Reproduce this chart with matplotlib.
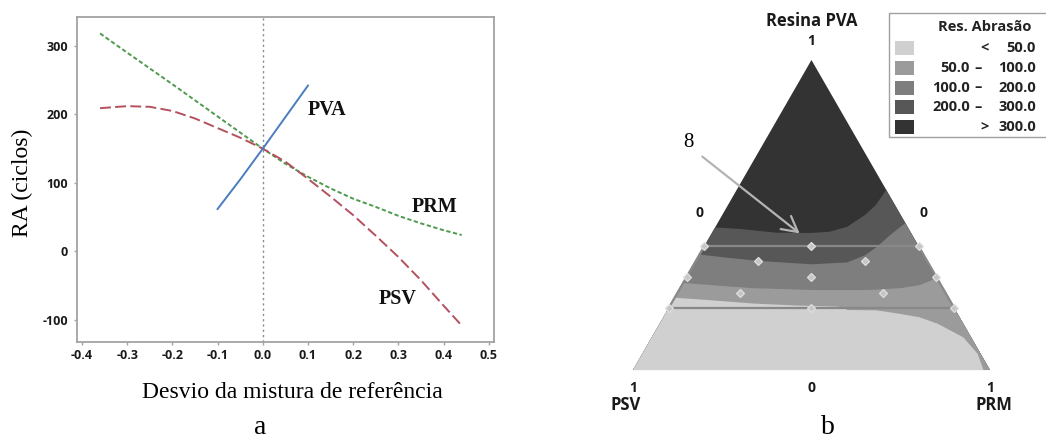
import matplotlib
matplotlib.use("Agg")
import matplotlib.pyplot as plt
from matplotlib.patches import Polygon, Rectangle

SERIF = "Liberation Serif"
SANS = "Open Sans"

# ---------------- panel a : response trace ----------------
x_ticks = [-0.4, -0.3, -0.2, -0.1, 0.0, 0.1, 0.2, 0.3, 0.4, 0.5]
x_tick_labels = ["-0.4", "-0.3", "-0.2", "-0.1", "0.0", "0.1", "0.2", "0.3", "0.4", "0.5"]
y_ticks = [-100, 0, 100, 200, 300]
y_tick_labels = ["-100", "0", "100", "200", "300"]

pva_x = [-0.1, -0.05, 0.0, 0.05, 0.1]
pva_y = [62, 105, 150, 196, 242]

psv_x = [-0.36, -0.3, -0.25, -0.2, -0.15, -0.1, -0.05, 0.0, 0.05, 0.1, 0.15, 0.2, 0.25, 0.3, 0.35, 0.4, 0.44]
psv_y = [209, 212, 211, 205, 194, 180, 166, 150, 131, 106, 80, 53, 23, -8, -42, -79, -108]

prm_x = [-0.36, -0.3, -0.2, -0.1, 0.0, 0.05, 0.1, 0.15, 0.2, 0.25, 0.3, 0.35, 0.4, 0.44]
prm_y = [318, 290, 244, 197, 150, 128, 109, 92, 77, 65, 52, 41, 31, 24]

# ---------------- panel b : mixture contour ----------------
# contour boundaries: horizontal ternary position u (= PRM + PVA/2) and PVA level v
b300_u = [0.0, 0.2, 0.3, 0.4, 0.5, 0.55, 0.6, 0.65, 0.68, 0.7, 0.72, 0.8, 1.0]
b300_v = [0.47, 0.462, 0.455, 0.443, 0.442, 0.446, 0.462, 0.50, 0.532, 0.565, 0.60, 1.0, 1.2]

b200_u = [0.0, 0.15, 0.19, 0.25, 0.35, 0.5, 0.6, 0.65, 0.683, 0.72, 0.763, 0.8, 1.0]
b200_v = [0.38, 0.375, 0.372, 0.364, 0.352, 0.341, 0.347, 0.37, 0.397, 0.435, 0.474, 0.8, 1.2]

b100_u = [0.0, 0.14, 0.25, 0.336, 0.5, 0.66, 0.75, 0.804, 0.852, 0.9, 1.0]
b100_v = [0.29, 0.281, 0.271, 0.264, 0.258, 0.258, 0.264, 0.274, 0.297, 0.5, 1.2]

b50_u = [0.0, 0.112, 0.2, 0.336, 0.45, 0.571, 0.585, 0.6, 0.68, 0.711, 0.75, 0.8, 0.852, 0.924, 0.964, 0.981, 1.0]
b50_v = [0.24, 0.235, 0.228, 0.216, 0.21, 0.206, 0.203, 0.195, 0.194, 0.189, 0.182, 0.172, 0.151, 0.107, 0.054, 0.0, -0.2]

band_labels_lo = ["", "50.0", "100.0", "200.0", ""]
band_symbols = ["<", "\u2013", "\u2013", "\u2013", ">"]
band_labels_hi = ["50.0", "100.0", "200.0", "300.0", "300.0"]
band_colors = ["#d0d0d0", "#9b9b9b", "#7e7e7e", "#575757", "#333333"]

# design points (PVA, PRM fractions)
pts_pva = [0.4, 0.4, 0.4, 0.35, 0.35, 0.3, 0.3, 0.3, 0.25, 0.25, 0.2, 0.2, 0.2]
pts_prm = [0.0, 0.3, 0.6, 0.175, 0.475, 0.0, 0.35, 0.7, 0.175, 0.575, 0.0, 0.4, 0.8]
pva_low, pva_high = 0.2, 0.4

W, H = 1046, 441
fig = plt.figure(figsize=(W / 100, H / 100), dpi=100)
fig.patch.set_facecolor("white")


def fx(px):
    return px / W


def fy(py):
    return 1 - py / H


# ---- left axes ----
ax = fig.add_axes([fx(77), fy(342), (494 - 77) / W, (342 - 17) / H])
ax.set_xlim(-0.411, 0.5115)
ax.set_ylim(-132, 342)
ax.axvline(0, color="#8c8c8c", lw=1.0, dashes=(1.6, 2.2))
ax.plot(prm_x, prm_y, color="#4e9a4e", lw=1.4, dashes=(2.2, 1.3))
ax.plot(psv_x, psv_y, color="#b5505e", lw=1.4, dashes=(5.6, 2.2))
ax.plot(pva_x, pva_y, color="#4a7cbf", lw=1.4)
ax.set_xticks(x_ticks)
ax.set_xticklabels(x_tick_labels)
ax.set_yticks(y_ticks)
ax.set_yticklabels(y_tick_labels)
for s in ax.spines.values():
    s.set_color("#a3a3a3")
    s.set_linewidth(1.3)
ax.tick_params(direction="out", length=2.5, width=1, color="#a3a3a3",
               labelsize=9, labelcolor="#1a1a1a")
ax.tick_params(axis="y", pad=4.0)
ax.tick_params(axis="x", pad=2.5)
for lab in ax.get_xticklabels() + ax.get_yticklabels():
    lab.set_fontfamily(SANS)
    lab.set_fontweight("bold")
ax.text(0.142, 206, "PVA", family=SERIF, fontsize=14.5, ha="center", va="center",
        color="#111111", fontweight="bold")
ax.text(0.379, 65, "PRM", family=SERIF, fontsize=14.5, ha="center", va="center",
        color="#111111", fontweight="bold")
ax.text(0.299, -69, "PSV", family=SERIF, fontsize=14.5, ha="center", va="center",
        color="#111111", fontweight="bold")

# ---- ternary axes ----
tx = fig.add_axes([fx(520), 0, (W - 520) / W, 1])
tx.set_xlim(-0.3165, 1.157)
tx.set_ylim(-0.229, 1.1935)
tx.axis("off")

tri = Polygon([(0, 0), (1, 0), (0.5, 1)], closed=True, facecolor=band_colors[4],
              edgecolor="none", zorder=1)
tx.add_patch(tri)
for bu, bv, col in [(b300_u, b300_v, band_colors[3]),
                    (b200_u, b200_v, band_colors[2]),
                    (b100_u, b100_v, band_colors[1]),
                    (b50_u, b50_v, band_colors[0])]:
    coll = tx.fill_between(bu, -0.3, bv, color=col, lw=0, zorder=2)
    coll.set_clip_path(tri)

region = Polygon([(pva_low / 2, pva_low), (1 - pva_low / 2, pva_low),
                  (1 - pva_high / 2, pva_high), (pva_high / 2, pva_high)],
                 closed=True, fill=False, edgecolor="#888888", lw=1.6, zorder=3)
tx.add_patch(region)
pts_u = [p + v / 2 for p, v in zip(pts_prm, pts_pva)]
tx.plot(pts_u, pts_pva, ls="none", marker="D", ms=4.5, mfc="#c6c6c6", mec="#dedede",
        mew=0.9, zorder=4)

tx.annotate("", xy=(0.473, 0.435), xytext=(0.188, 0.694),
            arrowprops=dict(arrowstyle="->,head_length=0.55,head_width=0.3",
                            color="#b4b4b4", lw=1.6, mutation_scale=20), zorder=5)
tx.text(0.154, 0.735, "8", family=SERIF, fontsize=15, ha="center", va="center")

tkw = dict(family=SANS, fontweight="bold", ha="center", va="center", color="#1a1a1a")
tx.text(0.5, 1.126, "Resina PVA", fontsize=12, **tkw)
tx.text(0.5, 1.062, "1", fontsize=10, **tkw)
tx.text(0.185, 0.506, "0", fontsize=10, **tkw)
tx.text(0.814, 0.506, "0", fontsize=10, **tkw)
tx.text(0.0, -0.058, "1", fontsize=10, **tkw)
tx.text(0.5, -0.058, "0", fontsize=10, **tkw)
tx.text(1.0, -0.058, "1", fontsize=10, **tkw)
tx.text(-0.022, -0.113, "PSV", fontsize=12, **tkw)
tx.text(1.01, -0.113, "PRM", fontsize=12, **tkw)

# ---- overlay in pixel coordinates ----
ov = fig.add_axes([0, 0, 1, 1])
ov.set_xlim(0, W)
ov.set_ylim(H, 0)
ov.axis("off")
ov.text(292, 393, "Desvio da mistura de referência", family=SERIF, fontsize=17,
        ha="center", va="center")
ov.text(22, 183, "RA (ciclos)", family=SERIF, fontsize=17, rotation=90,
        ha="center", va="center")
ov.text(260, 434, "a", family=SERIF, fontsize=20, ha="center", va="baseline")
ov.text(828, 434, "b", family=SERIF, fontsize=20, ha="center", va="baseline")

ov.add_patch(Rectangle((889, 13), 200, 124, fill=False, edgecolor="#a0a0a0", lw=1))
ov.text(985, 27, "Res. Abrasão", family=SANS, fontweight="bold", fontsize=10.5,
        ha="center", va="center", color="#222222")
row_y = [48, 68, 87.5, 107, 127]
for i in range(5):
    yc = row_y[i]
    ov.add_patch(Rectangle((895, yc - 7), 19, 14, facecolor=band_colors[i],
                           edgecolor="none"))
    sx = 978 if band_symbols[i] == "\u2013" else 985
    lkw = dict(family=SANS, fontweight="bold", fontsize=10.5, va="center",
               color="#222222")
    ov.text(sx, yc, band_symbols[i], ha="center", **lkw)
    ov.text(970, yc, band_labels_lo[i], ha="right", **lkw)
    ov.text(1036, yc, band_labels_hi[i], ha="right", **lkw)

fig.savefig("out.png", dpi=100, facecolor="white")
